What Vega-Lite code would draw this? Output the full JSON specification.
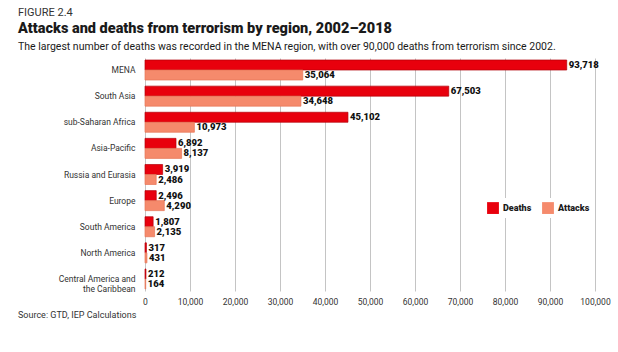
{
  "$schema": "https://vega.github.io/schema/vega-lite/v6.json",
  "padding": {"left": 18, "top": 7, "right": 2, "bottom": 4},
  "background": "white",
  "config": {
    "font": "Roboto",
    "view": {"stroke": null},
    "concat": {"spacing": 0},
    "title": {"color": "#1a1a1a"}
  },
  "title": {"text": "Source: GTD, IEP Calculations", "orient": "bottom", "anchor": "start", "fontSize": 9, "fontWeight": "normal", "offset": 5, "color": "#333"},
  "vconcat": [
    {
      "title": {"text": "FIGURE 2.4", "anchor": "start", "fontSize": 11, "fontWeight": "normal", "offset": 3, "color": "#333"},
      "vconcat": [
        {
          "title": {
            "text": "Attacks and deaths from terrorism by region, 2002–2018",
            "subtitle": "The largest number of deaths was recorded in the MENA region, with over 90,000 deaths from terrorism since 2002.",
            "anchor": "start",
            "fontSize": 14.5,
            "fontWeight": 900,
            "subtitleFontSize": 10.5,
            "subtitleColor": "#1a1a1a",
            "subtitlePadding": 5,
            "offset": 5
          },
          "width": 450,
          "height": 233,
          "data": {
            "values": [
              {"region": "MENA", "measure": "Deaths", "value": 93718},
              {"region": "MENA", "measure": "Attacks", "value": 35064},
              {"region": "South Asia", "measure": "Deaths", "value": 67503},
              {"region": "South Asia", "measure": "Attacks", "value": 34648},
              {"region": "sub-Saharan Africa", "measure": "Deaths", "value": 45102},
              {"region": "sub-Saharan Africa", "measure": "Attacks", "value": 10973},
              {"region": "Asia-Pacific", "measure": "Deaths", "value": 6892},
              {"region": "Asia-Pacific", "measure": "Attacks", "value": 8137},
              {"region": "Russia and Eurasia", "measure": "Deaths", "value": 3919},
              {"region": "Russia and Eurasia", "measure": "Attacks", "value": 2486},
              {"region": "Europe", "measure": "Deaths", "value": 2496},
              {"region": "Europe", "measure": "Attacks", "value": 4290},
              {"region": "South America", "measure": "Deaths", "value": 1807},
              {"region": "South America", "measure": "Attacks", "value": 2135},
              {"region": "North America", "measure": "Deaths", "value": 317},
              {"region": "North America", "measure": "Attacks", "value": 431},
              {"region": "Central America and the Caribbean", "measure": "Deaths", "value": 212},
              {"region": "Central America and the Caribbean", "measure": "Attacks", "value": 164}
            ]
          },
          "encoding": {
            "y": {
              "field": "region",
              "type": "nominal",
              "sort": ["MENA", "South Asia", "sub-Saharan Africa", "Asia-Pacific", "Russia and Eurasia", "Europe", "South America", "North America", "Central America and the Caribbean"],
              "scale": {"paddingInner": 0.234, "paddingOuter": 0.077},
              "axis": {
                "title": null,
                "domain": false,
                "ticks": false,
                "labelFontSize": 8.5,
                "labelColor": "#333",
                "labelPadding": 10,
                "labelLimit": 200,
                "minExtent": 127,
                "maxExtent": 127,
                "labelExpr": "datum.label == 'Central America and the Caribbean' ? ['Central America and', 'the Caribbean'] : datum.label"
              }
            },
            "yOffset": {"field": "measure", "type": "nominal", "sort": ["Deaths", "Attacks"], "scale": {"paddingInner": 0, "paddingOuter": 0}},
            "x": {
              "field": "value",
              "type": "quantitative",
              "scale": {"domain": [0, 100000], "nice": false},
              "axis": {
                "title": null,
                "values": [0, 10000, 20000, 30000, 40000, 50000, 60000, 70000, 80000, 90000, 100000],
                "labelExpr": "format(datum.value, ',')",
                "labelFlush": false,
                "labelOverlap": false,
                "domain": false,
                "ticks": false,
                "grid": true,
                "gridColor": "#c4c4c4",
                "gridWidth": 1,
                "labelFontSize": 8.5,
                "labelColor": "#333",
                "labelPadding": 6
              }
            }
          },
          "layer": [
            {
              "mark": {"type": "bar", "strokeWidth": 0.7},
              "encoding": {
                "fill": {
                  "field": "measure",
                  "type": "nominal",
                  "sort": ["Deaths", "Attacks"],
                  "scale": {"domain": ["Deaths", "Attacks"], "range": ["#e8000d", "#f58a6c"]},
                  "legend": {
                    "title": null,
                    "orient": "none",
                    "legendX": 338,
                    "legendY": 140,
                    "direction": "horizontal",
                    "symbolType": "square",
                    "symbolSize": 140,
                    "symbolStrokeWidth": 0,
                    "labelFontSize": 9,
                    "labelFontWeight": 900,
                    "labelColor": "#1a1a1a",
                    "columnPadding": 10,
                    "fillColor": "white",
                    "padding": 4
                  }
                },
                "stroke": {
                  "field": "measure",
                  "type": "nominal",
                  "scale": {"domain": ["Deaths", "Attacks"], "range": ["#b3000a", "#e77658"]},
                  "legend": null
                }
              }
            },
            {
              "mark": {"type": "text", "align": "left", "baseline": "middle", "dx": 2, "fontSize": 9.5, "fontWeight": 900, "color": "#111"},
              "encoding": {
                "text": {"field": "value", "type": "quantitative", "format": ","}
              }
            }
          ]
        }
      ]
    }
  ]
}
